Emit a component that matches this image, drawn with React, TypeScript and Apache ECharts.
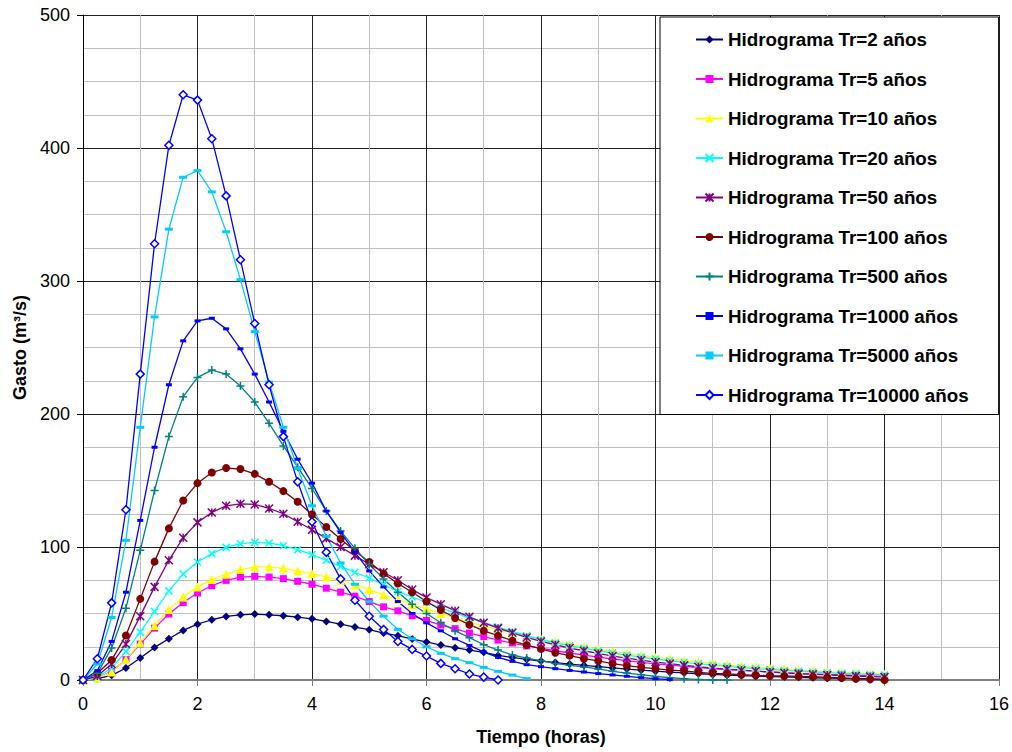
import React, { useEffect, useRef } from "react";
import * as echarts from "echarts";

const TIME = [0, 0.25, 0.5, 0.75, 1, 1.25, 1.5, 1.75, 2, 2.25, 2.5, 2.75, 3, 3.25, 3.5, 3.75, 4, 4.25, 4.5, 4.75, 5, 5.25, 5.5, 5.75, 6, 6.25, 6.5, 6.75, 7, 7.25, 7.5, 7.75, 8, 8.25, 8.5, 8.75, 9, 9.25, 9.5, 9.75, 10, 10.25, 10.5, 10.75, 11, 11.25, 11.5, 11.75, 12, 12.25, 12.5, 12.75, 13, 13.25, 13.5, 13.75, 14];

const TR2 = [0, 1, 3.5, 9, 16.5, 24.5, 31, 37.3, 42, 45.3, 47.8, 49, 49.6, 49, 48.3, 47.2, 46, 44, 42, 39.8, 37.8, 35.3, 33.3, 30.8, 28.6, 26.3, 24.3, 22.5, 20.8, 18.5, 17, 15.5, 14.3, 13.1, 12, 11, 10, 9.1, 8.2, 7.4, 6.6, 5.9, 5.3, 4.7, 4.2, 3.7, 3.3, 2.9, 2.6, 2.3, 2, 1.7, 1.4, 1.2, 1, 0.8, 0.6];
const TR5 = [0, 1.5, 6.5, 15.3, 27, 39, 49.6, 58.3, 65.4, 70.9, 74.9, 77.4, 77.9, 77.4, 76.2, 74.2, 72, 69, 66, 63, 59, 55, 52, 48.3, 44.8, 41.3, 38.6, 35.3, 32.6, 30, 27.8, 25.6, 24, 22, 20.3, 18.7, 17.2, 15.8, 14.5, 13.3, 12.2, 11.2, 10.3, 9.4, 8.6, 7.9, 7.2, 6.6, 6, 5.5, 5, 4.6, 4.2, 3.8, 3.4, 3.1, 2.8];
const TR10 = [0, 1.5, 6, 15.5, 28, 41, 53, 62.5, 70, 75.5, 79.5, 83, 85, 85, 84, 82, 80, 77.5, 75, 71.5, 68, 64, 60.5, 56.6, 53.4, 50, 46.6, 43.6, 40.5, 37.8, 35.3, 32.8, 30.8, 28.7, 26.8, 25, 23.3, 21.6, 20, 18.5, 17, 15.8, 14.6, 13.5, 12.4, 11.4, 10.5, 9.7, 8.9, 8.2, 7.5, 6.9, 6.3, 5.8, 5.3, 4.8, 4.4];
const TR20 = [0, 2, 9, 21.5, 36, 51.6, 67, 79.7, 88.7, 95, 99.7, 102.5, 103.5, 103, 101, 98, 94.2, 90, 85.4, 81, 76.7, 71.7, 66.6, 62.4, 58.3, 54.1, 50.4, 46.6, 43.3, 39.8, 36.5, 33.3, 30.3, 28, 25.8, 23.8, 22, 20.3, 18.7, 17.2, 15.8, 14.5, 13.3, 12.2, 11.2, 10.3, 9.4, 8.6, 7.9, 7.2, 6.6, 6, 5.5, 5, 4.6, 4.2, 3.8];
const TR50 = [0, 3, 12, 27, 48, 70, 90, 107, 118.5, 126, 131, 132.5, 132, 129, 125, 119, 113, 106.5, 100, 93.5, 87, 81, 75, 68, 62, 57, 52, 47.5, 43, 39, 35.5, 32, 29, 26.5, 24, 22, 20, 18, 16.5, 15, 13.5, 12.3, 11, 10, 9, 8.2, 7.4, 6.7, 6, 5.4, 4.8, 4.3, 3.8, 3.4, 3, 2.6, 2.2];
const TR100 = [0, 5, 15, 33.5, 61, 89, 114, 135, 148, 156, 159.4, 158.6, 155, 149, 142, 134, 124.5, 115, 106, 97, 88.7, 80, 72.6, 66, 59, 52.6, 46.6, 41.6, 37, 33.3, 29.5, 26.3, 23.4, 20.5, 18.3, 16, 14.3, 12.3, 10.8, 9.5, 8.5, 7.5, 6.8, 5.8, 5, 4.5, 4, 3.5, 3.2, 3, 2.7, 2.5, 2, 1.5, 1, 0.5, 0];
const TR500 = [0, 5, 24, 54, 97.5, 142.5, 183, 213, 227.5, 233, 230, 221, 209, 193, 176, 160, 144, 127, 112, 99, 87, 76, 66, 57, 50, 43, 37, 31.8, 26.5, 22.5, 18.8, 16.5, 14.5, 12.5, 11, 9.8, 8.3, 6.5, 5.2, 4, 2.7, 1.7, 1, 0.3, 0, 0];
const TR1000 = [0, 7, 29, 66, 120, 175, 222, 255, 270, 272, 264, 249, 230, 209, 187, 166, 148, 127, 111, 96, 82, 70, 59, 50, 43, 37, 31, 26, 21, 17, 14, 11.5, 10, 8.5, 7.2, 6, 4.8, 3.8, 2.8, 1.8, 1, 0.3];
const TR5000 = [0, 12, 47, 105, 190, 273, 339, 378, 383, 367, 337, 301, 262, 224, 190, 159, 131, 108, 88, 72, 59, 48, 38, 31, 25, 20, 16, 13, 9.5, 6.5, 3.7, 1];
const TR10000 = [0, 16, 58, 128, 230, 328, 402, 440, 436, 407, 364, 316, 268, 222, 183, 149, 119, 96, 76, 60, 48, 38, 29, 23, 18, 12.5, 8.5, 4.5, 2.2, 0];

const NAMES = [
  "Hidrograma Tr=2 años",
  "Hidrograma Tr=5 años",
  "Hidrograma Tr=10 años",
  "Hidrograma Tr=20 años",
  "Hidrograma Tr=50 años",
  "Hidrograma Tr=100 años",
  "Hidrograma Tr=500 años",
  "Hidrograma Tr=1000 años",
  "Hidrograma Tr=5000 años",
  "Hidrograma Tr=10000 años",
];

const X_SYM = "path://M0 0L10 10M10 0L0 10";
const STAR_SYM = "path://M0 0L10 10M10 0L0 10M5 0L5 10";
const PLUS_SYM = "path://M5 0L5 10M0 5L10 5";
const FONT = "Liberation Sans, Arial, sans-serif";

export default function App() {
  const ref = useRef<HTMLDivElement>(null);
  useEffect(() => {
    if (!ref.current) return;
    const chart = echarts.init(ref.current, null, { renderer: "svg" });
    const zip = (vals: number[]) => vals.map((v, i) => [TIME[i], v]);
    const styles: any[] = [
      { data: TR2, color: "#000080", symbol: "diamond", size: 8 },
      { data: TR5, color: "#ff00ff", symbol: "rect", size: 7 },
      { data: TR10, color: "#ffff00", symbol: "triangle", size: 9 },
      { data: TR20, color: "#00ffff", symbol: X_SYM, size: 7, stroke: true },
      { data: TR50, color: "#800080", symbol: STAR_SYM, size: 8, stroke: true },
      { data: TR100, color: "#800000", symbol: "circle", size: 8 },
      { data: TR500, color: "#008080", symbol: PLUS_SYM, size: 8, stroke: true },
      { data: TR1000, color: "#0000ff", symbol: "rect", size: [6, 3] },
      { data: TR5000, color: "#00ccff", symbol: "rect", size: [8, 3] },
      { data: TR10000, color: "#0000ff", symbol: "diamond", size: 8, open: true },
    ];
    const series = styles.map((s, i) => ({
      name: NAMES[i],
      type: "line",
      data: zip(s.data),
      symbol: s.symbol,
      symbolSize: s.size,
      showSymbol: true,
      lineStyle: { color: s.color, width: 1.3 },
      itemStyle: s.open
        ? { color: "#ffffff", borderColor: s.color, borderWidth: 1.5 }
        : s.stroke
        ? { color: s.color, borderColor: s.color, borderWidth: 1.5 }
        : { color: s.color },
      emphasis: { disabled: true },
    }));
    chart.setOption({
      animation: false,
      backgroundColor: "#ffffff",
      grid: { left: 83, right: 13, top: 15, bottom: 72 },
      legend: {
        orient: "vertical",
        left: 660,
        top: 17,
        data: NAMES,
        backgroundColor: "#ffffff",
        borderColor: "#000000",
        borderWidth: 1,
        padding: [13, 30, 10, 35],
        itemWidth: 27,
        itemHeight: 10,
        itemGap: 20.5,
        textStyle: {
          fontFamily: FONT,
          fontWeight: "bold",
          fontSize: 18.8,
          lineHeight: 18,
          color: "#000000",
        },
      },
      xAxis: {
        type: "value",
        min: 0,
        max: 16,
        interval: 2,
        name: "Tiempo (horas)",
        nameLocation: "middle",
        nameGap: 48,
        nameTextStyle: { fontFamily: FONT, fontWeight: "bold", fontSize: 18, color: "#000000" },
        axisLine: { show: true, onZero: false, lineStyle: { color: "#808080", width: 2 } },
        axisTick: { show: true, length: 6, lineStyle: { color: "#808080", width: 1 } },
        axisLabel: { margin: 15, fontFamily: FONT, fontSize: 18, color: "#000000" },
        splitLine: { show: true, lineStyle: { color: "#222222", width: 1 } },
        minorTick: { show: false, splitNumber: 2 },
        minorSplitLine: { show: true, lineStyle: { color: "#c0c0c0", width: 1 } },
      },
      yAxis: {
        type: "value",
        min: 0,
        max: 500,
        interval: 100,
        name: "Gasto (m³/s)",
        nameLocation: "middle",
        nameGap: 53,
        nameTextStyle: { fontFamily: FONT, fontWeight: "bold", fontSize: 18, color: "#000000" },
        axisLine: { show: true, onZero: false, lineStyle: { color: "#000000", width: 1 } },
        axisTick: { show: true, length: 6, lineStyle: { color: "#000000", width: 1 } },
        axisLabel: { margin: 13, fontFamily: FONT, fontSize: 18, color: "#000000" },
        splitLine: { show: true, lineStyle: { color: "#222222", width: 1 } },
        minorTick: { show: false, splitNumber: 4 },
        minorSplitLine: { show: true, lineStyle: { color: "#c0c0c0", width: 1 } },
      },
      series,
    });
    return () => chart.dispose();
  }, []);
  return (
    <div
      ref={ref}
      style={{ position: "fixed", left: 0, top: 0, width: 1012, height: 752 }}
    />
  );
}
